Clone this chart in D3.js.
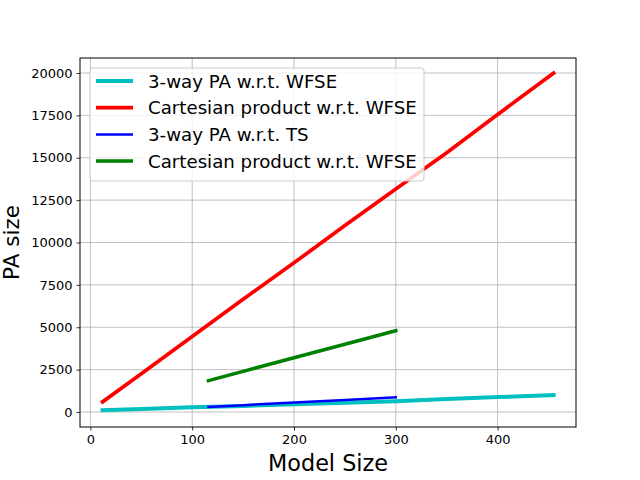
<!DOCTYPE html>
<html>
<head>
<meta charset="utf-8">
<script src="https://cdn.jsdelivr.net/npm/d3@7"></script>
<style>
body { margin: 0; background: #fff; }
svg { font-family: "DejaVu Sans", sans-serif; }
</style>
</head>
<body>
<svg width="640" height="480"></svg>
<script>
// data
const cyanX = [12, 50, 100, 150, 200, 250, 300, 350, 400, 455]
const cyanY = [100, 170, 280, 360, 450, 540, 640, 760, 880, 1000]
const redX = [12, 50, 100, 150, 200, 250, 300, 350, 400, 455]
const redY = [600, 2250, 4450, 6650, 8800, 11000, 13150, 15300, 17550, 20000]
const blueX = [116, 150, 200, 250, 300]
const blueY = [300, 405, 560, 715, 870]
const greenX = [116, 150, 200, 250, 300]
const greenY = [1850, 2400, 3200, 4000, 4800]
const xTicks = [0, 100, 200, 300, 400]
const yTicks = [0, 2500, 5000, 7500, 10000, 12500, 15000, 17500, 20000]
const labels = ["3-way PA w.r.t. WFSE", "Cartesian product w.r.t. WFSE", "3-way PA w.r.t. TS", "Cartesian product w.r.t. WFSE"]

const series = [
  {x: cyanX, y: cyanY, color: "#00bfbf", w: 4, name: labels[0]},
  {x: redX, y: redY, color: "#ff0000", w: 3.7, name: labels[1]},
  {x: blueX, y: blueY, color: "#0000ff", w: 2.5, name: labels[2]},
  {x: greenX, y: greenY, color: "#008000", w: 3.5, name: labels[3]}
]

const svg = d3.select("svg")
const mLeft = 80, mRight = 576, mTop = 58, mBottom = 427

const xScale = d3.scaleLinear().domain([-10.2, 477]).range([mLeft, mRight])
const yScale = d3.scaleLinear().domain([-885, 20885]).range([mBottom, mTop])

// grid
const grid = svg.append("g")
grid.selectAll(".gx").data(xTicks).join("line")
  .attr("x1", d => xScale(d)).attr("x2", d => xScale(d))
  .attr("y1", mTop).attr("y2", mBottom)
  .attr("stroke", "#b0b0b0").attr("stroke-width", 0.8)
grid.selectAll(".gy").data(yTicks).join("line")
  .attr("x1", mLeft).attr("x2", mRight)
  .attr("y1", d => yScale(d)).attr("y2", d => yScale(d))
  .attr("stroke", "#b0b0b0").attr("stroke-width", 0.8)

// lines
const line = d3.line().x(d => xScale(d[0])).y(d => yScale(d[1]))
series.forEach(s => {
  svg.append("path")
    .datum(s.x.map((v, i) => [v, s.y[i]]))
    .attr("d", line)
    .attr("fill", "none")
    .attr("stroke", s.color)
    .attr("stroke-width", s.w)
    .attr("stroke-linecap", "square")
})

// axes
const xAxis = svg.append("g")
  .attr("transform", "translate(0," + mBottom + ")")
  .call(d3.axisBottom(xScale).tickValues(xTicks).tickSize(3.5).tickPadding(4).tickFormat(d3.format("d")))
const yAxis = svg.append("g")
  .attr("transform", "translate(" + mLeft + ",0)")
  .call(d3.axisLeft(yScale).tickValues(yTicks).tickSize(3.5).tickPadding(4).tickFormat(d3.format("d")))
;[xAxis, yAxis].forEach(a => {
  a.select(".domain").remove()
  a.selectAll("text").attr("font-size", 13).attr("fill", "#000").attr("font-family", "DejaVu Sans")
  a.selectAll("line").attr("stroke", "#000").attr("stroke-width", 0.8)
})

svg.append("rect")
  .attr("x", mLeft).attr("y", mTop)
  .attr("width", mRight - mLeft).attr("height", mBottom - mTop)
  .attr("fill", "none").attr("stroke", "#000").attr("stroke-width", 1)

svg.append("text")
  .attr("x", (mLeft + mRight) / 2).attr("y", 471)
  .attr("text-anchor", "middle").attr("font-size", 22.3)
  .text("Model Size")
svg.append("text")
  .attr("transform", "translate(19," + ((mTop + mBottom) / 2) + ") rotate(-90)")
  .attr("text-anchor", "middle").attr("font-size", 21.5)
  .text("PA size")

// legend
const lg = svg.append("g")
lg.append("rect")
  .attr("x", 90).attr("y", 68).attr("width", 334).attr("height", 113)
  .attr("rx", 3).attr("fill", "#fff").attr("fill-opacity", 0.8)
  .attr("stroke", "#cccccc").attr("stroke-width", 1)
series.forEach((s, i) => {
  const yy = 81 + i * 26.7
  lg.append("line")
    .attr("x1", 96).attr("x2", 133).attr("y1", yy).attr("y2", yy)
    .attr("stroke", s.color).attr("stroke-width", s.w)
  lg.append("text")
    .attr("x", 148).attr("y", yy + 6.5)
    .attr("font-size", 18.2)
    .text(s.name)
})
</script>
</body>
</html>
